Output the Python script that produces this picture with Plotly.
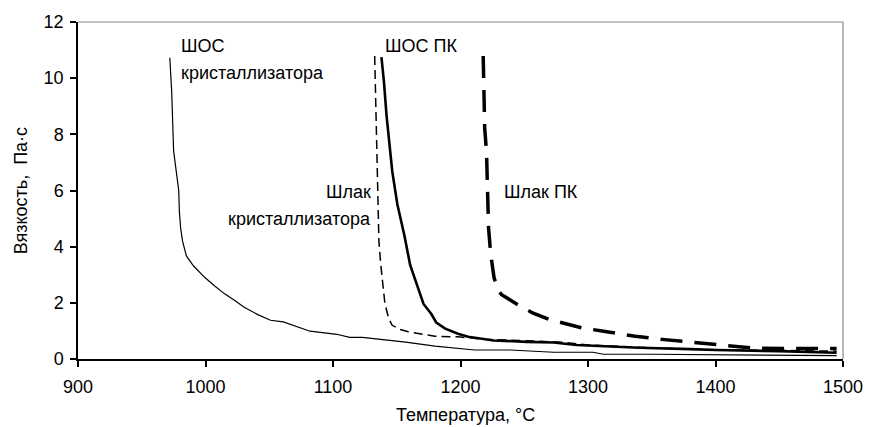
import plotly.graph_objects as go

# ШОС кристаллизатора (thin solid)
shos_cryst_T = [972, 973.5, 975, 977, 979, 979.5, 980.5, 982, 985, 990.5, 999.5, 1007, 1015, 1023, 1030,
                1041, 1051, 1061, 1072, 1082, 1103, 1113, 1123, 1149, 1157, 1180, 1211, 1239, 1273, 1304,
                1312, 1350, 1400, 1450, 1495]
shos_cryst_V = [10.73, 9.5, 7.4, 6.7, 6.0, 5.26, 4.66, 4.2, 3.67, 3.32, 2.9, 2.61, 2.32, 2.08, 1.85,
                1.58, 1.38, 1.32, 1.14, 0.99, 0.88, 0.77, 0.77, 0.65, 0.6, 0.46, 0.32, 0.32, 0.24, 0.24,
                0.17, 0.17, 0.16, 0.15, 0.12]

# ШОС ПК (thick solid)
shos_pk_T = [1138, 1140, 1142, 1146.5, 1150.5, 1156, 1160.5, 1166, 1171, 1177, 1181, 1188, 1198, 1206,
             1226, 1252, 1273, 1291, 1304, 1340, 1380, 1400, 1450, 1495]
shos_pk_V = [10.75, 9.85, 8.67, 6.67, 5.5, 4.4, 3.35, 2.6, 1.96, 1.61, 1.3, 1.08, 0.9, 0.79,
             0.66, 0.61, 0.59, 0.5, 0.47, 0.4, 0.35, 0.32, 0.28, 0.22]

# Шлак кристаллизатора (thin dashed)
slag_cryst_T = [1132.7, 1133.5, 1134.8, 1136, 1137.4, 1138.9, 1140.7, 1143.6, 1146.4, 1152.8, 1159,
                1180, 1198, 1220, 1250, 1280, 1300, 1350, 1400, 1450, 1495]
slag_cryst_V = [10.79, 9.14, 5.5, 4.2, 3.39, 2.61, 1.98, 1.45, 1.2, 1.05, 0.97,
                0.81, 0.79, 0.7, 0.64, 0.6, 0.5, 0.4, 0.33, 0.3, 0.28]

# Шлак ПК (thick dashed)
slag_pk_T = [1217.8, 1219, 1220.4, 1222, 1223.7, 1226.3, 1229, 1232, 1244, 1257, 1270, 1283, 1296,
             1311, 1324, 1337, 1360, 1378, 1395, 1410, 1430, 1460, 1495]
slag_pk_V = [10.79, 8.2, 7.38, 4.67, 3.73, 2.9, 2.5, 2.3, 1.96, 1.63, 1.4, 1.26, 1.1,
             1.0, 0.9, 0.81, 0.69, 0.61, 0.52, 0.45, 0.39, 0.37, 0.37]

x_ticks = [900, 1000, 1100, 1200, 1300, 1400, 1500]
y_ticks = [0, 2, 4, 6, 8, 10, 12]

FONT = "Liberation Sans, Arial, sans-serif"
FS = 18

fig = go.Figure()
fig.add_trace(go.Scatter(x=shos_cryst_T, y=shos_cryst_V, mode="lines",
                         line=dict(color="black", width=1.2)))
fig.add_trace(go.Scatter(x=slag_cryst_T, y=slag_cryst_V, mode="lines",
                         line=dict(color="black", width=1.5, dash="9px,5px")))
fig.add_trace(go.Scatter(x=shos_pk_T, y=shos_pk_V, mode="lines",
                         line=dict(color="black", width=2.6)))
fig.add_trace(go.Scatter(x=slag_pk_T, y=slag_pk_V, mode="lines",
                         line=dict(color="black", width=3.5, dash="22px,12px")))

labels = [
    dict(x=979.6, y=11.15, text="ШОС", xanchor="left"),
    dict(x=979.6, y=10.2, text="кристаллизатора", xanchor="left"),
    dict(x=1138.9, y=11.15, text="ШОС ПК", xanchor="left"),
    dict(x=1131.2, y=5.93, text="Шлак", xanchor="right"),
    dict(x=1131.2, y=4.98, text="кристаллизатора", xanchor="right"),
    dict(x=1232.5, y=5.93, text="Шлак ПК", xanchor="left"),
]
for a in labels:
    fig.add_annotation(x=a["x"], y=a["y"], text=a["text"], xanchor=a["xanchor"], yanchor="middle",
                       showarrow=False, font=dict(family=FONT, size=FS, color="black"))

fig.add_annotation(xref="paper", yref="paper", x=0.506, y=-0.166, text="Температура, °С",
                   showarrow=False, xanchor="center", yanchor="middle",
                   font=dict(family=FONT, size=FS, color="black"))
fig.add_annotation(xref="paper", yref="paper", x=-0.0747, y=0.5, text="Вязкость,&nbsp; Па·с",
                   showarrow=False, xanchor="center", yanchor="middle", textangle=-90,
                   font=dict(family=FONT, size=FS, color="black"))

fig.add_shape(type="line", xref="paper", yref="paper", x0=0, x1=1, y0=1, y1=1,
              line=dict(color="#888888", width=1.2))
fig.add_shape(type="line", xref="paper", yref="paper", x0=1, x1=1, y0=0, y1=1,
              line=dict(color="#888888", width=1.2))

fig.update_xaxes(range=[900, 1500], tickvals=x_ticks, ticktext=[str(v) for v in x_ticks],
                 showgrid=False, zeroline=False, showline=True, linecolor="black", linewidth=1.5,
                 ticks="outside", ticklen=6, tickwidth=1.5, tickcolor="black", ticklabelstandoff=5,
                 tickfont=dict(family=FONT, size=FS, color="black"))
fig.update_yaxes(range=[0, 12], tickvals=y_ticks, ticktext=[str(v) for v in y_ticks],
                 showgrid=False, zeroline=False, showline=True, linecolor="black", linewidth=1.5,
                 ticks="outside", ticklen=6, tickwidth=1.5, tickcolor="black", ticklabelstandoff=3,
                 tickfont=dict(family=FONT, size=FS, color="black"))

fig.update_layout(width=875, height=427, margin=dict(l=78, r=21, t=19, b=68),
                  plot_bgcolor="white", paper_bgcolor="white", showlegend=False)

fig.write_html("out.html")
